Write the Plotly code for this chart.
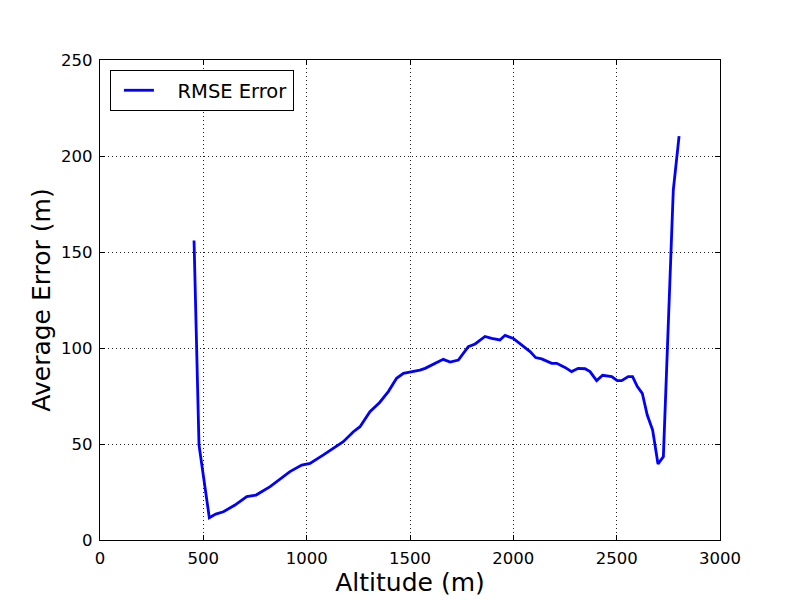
import plotly.graph_objects as go

altitude = [455, 479, 529, 560, 597, 653, 710, 755, 823, 870, 919, 976, 1016, 1081,
            1137, 1177, 1226, 1258, 1306, 1352, 1395, 1435, 1468, 1516, 1548, 1573,
            1621, 1661, 1694, 1734, 1782, 1815, 1863, 1895, 1935, 1960, 2000, 2040,
            2081, 2108, 2137, 2186, 2210, 2250, 2282, 2314, 2347, 2371, 2403, 2432,
            2476, 2503, 2524, 2556, 2577, 2600, 2624, 2648, 2674, 2700, 2726, 2774, 2802]
rmse = [156, 49.5, 11.6, 13.5, 14.7, 18.2, 22.6, 23.4, 27.8, 31.5, 35.6, 39, 39.9, 44.3,
        48.6, 51.2, 56.4, 59, 66.8, 71.5, 77.3, 84.2, 86.8, 87.7, 88.5, 89.4,
        92, 94.1, 92.7, 93.7, 100.7, 102.1, 106, 105, 104.2, 106.6, 105, 101.6,
        98.1, 95, 94.3, 92, 92, 89.9, 87.7, 89.4, 89.2, 87.7, 83, 85.8,
        85.1, 83, 83, 85.1, 85.1, 79.9, 76.4, 65.1, 57.3, 39.6, 43.4, 182.3, 210.4]

x_ticks = [0, 500, 1000, 1500, 2000, 2500, 3000]
y_ticks = [0, 50, 100, 150, 200, 250]

fig = go.Figure()
fig.add_trace(go.Scatter(x=altitude, y=rmse, mode="lines",
                         name="\u00a0\u00a0\u00a0RMSE Error",
                         line=dict(color="#0000ff", width=2.8)))

axis_common = dict(showline=True, linecolor="black", linewidth=1.2, mirror="ticks",
                   ticks="inside", ticklen=5, tickcolor="black", tickwidth=1,
                   showgrid=True, gridcolor="#222222", griddash="1px,3px", gridwidth=1,
                   zeroline=False, ticklabelstandoff=3,
                   tickfont=dict(family="DejaVu Sans", size=16.5, color="black"))

fig.update_xaxes(range=[0, 3000], tickvals=x_ticks, ticktext=[str(v) for v in x_ticks],
                 title=dict(text="Altitude (m)", font=dict(family="DejaVu Sans", size=25, color="black"),
                            standoff=6),
                 **axis_common)
fig.update_yaxes(range=[0, 250], tickvals=y_ticks, ticktext=[str(v) for v in y_ticks],
                 title=dict(text="Average Error (m)", font=dict(family="DejaVu Sans", size=25, color="black"),
                            standoff=3),
                 **axis_common)

# page body has an 8px default margin: compensate so the plot area lands at 100..720 x 60..540
fig.update_layout(width=792, height=592, plot_bgcolor="white", paper_bgcolor="white",
                  margin=dict(l=92, r=80, t=52, b=60, autoexpand=False),
                  font=dict(family="DejaVu Sans", color="black"),
                  showlegend=True,
                  legend=dict(x=0.016, y=0.979, xanchor="left", yanchor="top",
                              indentation=8,
                              bordercolor="black", borderwidth=1, bgcolor="white",
                              font=dict(family="DejaVu Sans", size=19.5, color="black")))

fig.write_html("out.html")
